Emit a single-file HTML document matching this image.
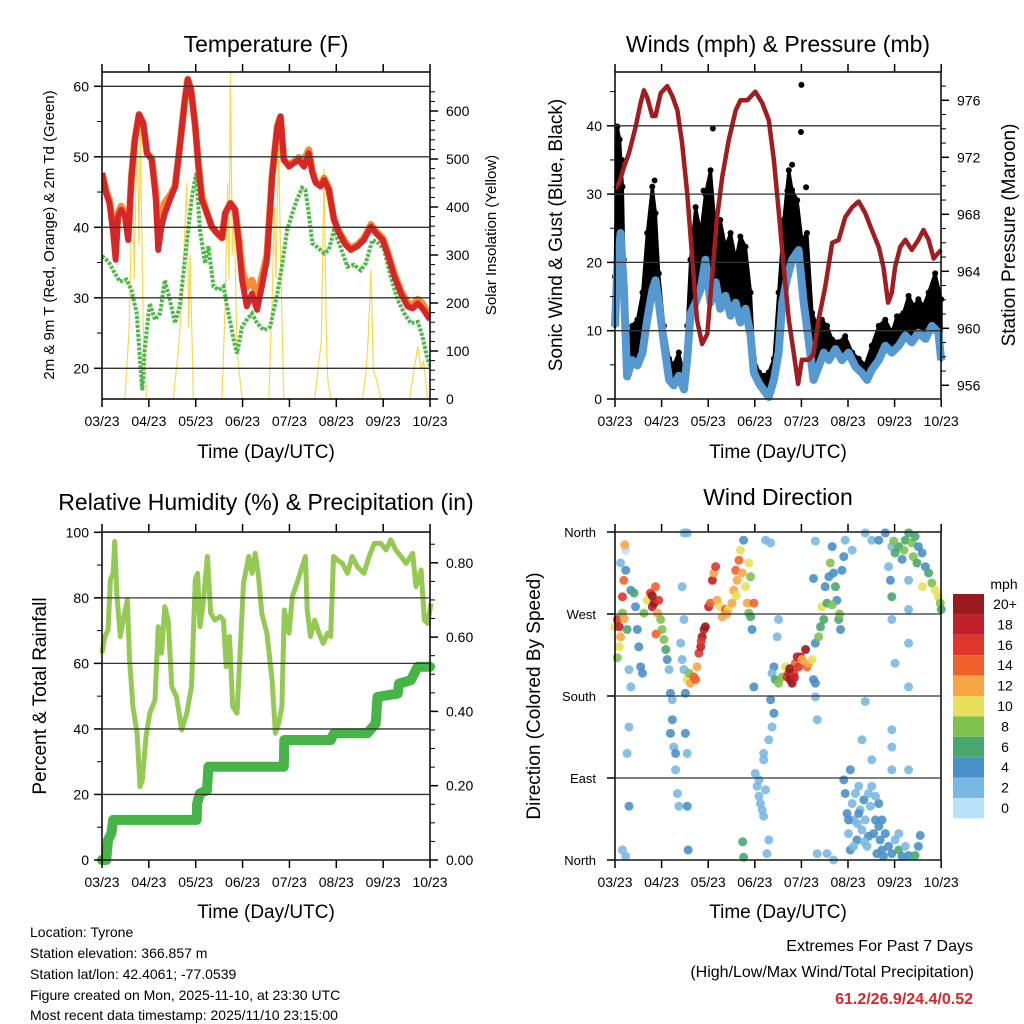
<!DOCTYPE html>
<html><head><meta charset="utf-8"><title>Station Charts</title>
<style>
html,body{margin:0;padding:0;background:#fff;}
svg{display:block;font-family:"Liberation Sans",sans-serif;}
</style></head>
<body>
<svg id="c" width="1024" height="1024" viewBox="0 0 1024 1024" xmlns="http://www.w3.org/2000/svg">
<defs><clipPath id="clip1"><rect x="102" y="72" width="328" height="327"/></clipPath></defs>
<rect width="1024" height="1024" fill="#fff"/>
<text x="266" y="52" font-size="23" text-anchor="middle">Temperature (F)</text>
<text x="778" y="52" font-size="23" text-anchor="middle">Winds (mph) &amp; Pressure (mb)</text>
<text x="266" y="510" font-size="23" text-anchor="middle">Relative Humidity (%) &amp; Precipitation (in)</text>
<text x="778" y="505" font-size="23" text-anchor="middle">Wind Direction</text>
<text transform="translate(54,235) rotate(-90)" font-size="15" text-anchor="middle">2m &amp; 9m T (Red, Orange) &amp; 2m Td (Green)</text>
<text transform="translate(496,235) rotate(-90)" font-size="15" text-anchor="middle">Solar Insolation (Yellow)</text>
<text transform="translate(562,235) rotate(-90)" font-size="19" text-anchor="middle">Sonic Wind &amp; Gust (Blue, Black)</text>
<text transform="translate(1015,235) rotate(-90)" font-size="19" text-anchor="middle">Station Pressure (Maroon)</text>
<text transform="translate(46,696) rotate(-90)" font-size="19" text-anchor="middle">Percent &amp; Total Rainfall</text>
<text transform="translate(540,696) rotate(-90)" font-size="19" text-anchor="middle">Direction (Colored By Speed)</text>
<text x="266" y="458" font-size="19" text-anchor="middle">Time (Day/UTC)</text>
<text x="778" y="458" font-size="19" text-anchor="middle">Time (Day/UTC)</text>
<text x="266" y="918" font-size="19" text-anchor="middle">Time (Day/UTC)</text>
<text x="778" y="918" font-size="19" text-anchor="middle">Time (Day/UTC)</text>
<g font-size="14">
<text x="30" y="937">Location: Tyrone</text>
<text x="30" y="958">Station elevation: 366.857 m</text>
<text x="30" y="979">Station lat/lon: 42.4061; -77.0539</text>
<text x="30" y="1000">Figure created on Mon, 2025-11-10, at 23:30 UTC</text>
<text x="30" y="1020">Most recent data timestamp: 2025/11/10 23:15:00</text>
</g>
<text x="973" y="951" font-size="16" text-anchor="end">Extremes For Past 7 Days</text>
<text x="974" y="977" font-size="16" text-anchor="end">(High/Low/Max Wind/Total Precipitation)</text>
<text x="973" y="1004" font-size="16" font-weight="bold" fill="#d62728" text-anchor="end">61.2/26.9/24.4/0.52</text>
</svg>
<script>
// ---------- data ----------
const dayLabels=["03/23","04/23","05/23","06/23","07/23","08/23","09/23","10/23"];
const tempT=[0,0.09,0.16,0.24,0.29,0.34,0.41,0.49,0.56,0.63,0.7,0.79,0.88,0.96,1.06,1.15,1.2,1.27,1.34,1.45,1.56,1.66,1.77,1.83,1.9,1.99,2.06,2.13,2.24,2.34,2.45,2.56,2.63,2.74,2.84,2.91,2.99,3.09,3.2,3.31,3.41,3.52,3.63,3.74,3.81,3.88,3.99,4.09,4.2,4.31,4.41,4.49,4.56,4.66,4.74,4.84,4.95,5.06,5.2,5.31,5.45,5.59,5.74,5.84,5.99,6.09,6.24,6.38,6.52,6.63,6.74,6.84,7.0];
const tempRed=[47.7,44.8,43.4,39.2,35.4,41.5,42.5,41.5,38.2,47.2,52.4,56.0,54.8,50.5,49.6,43.9,36.8,40.1,42.0,43.9,45.8,51.5,58.1,61.0,59.5,54.3,48.6,43.9,42.0,40.1,39.2,38.5,42.0,43.4,42.5,38.2,32.5,28.8,30.6,28.3,31.6,35.4,47.2,54.3,55.7,49.6,48.6,49.1,49.6,48.6,50.5,47.7,46.3,45.8,46.7,45.3,41.1,39.2,37.5,36.8,37.3,38.2,40.1,39.2,38.2,36.3,33.0,30.6,28.8,28.5,29.2,28.5,26.9];
const tempOrange=[47.7,45.2,43.8,40.0,36.4,42.0,43.0,42.0,38.8,47.2,52.4,56.0,54.8,50.5,49.8,45.0,39.0,42.0,43.5,44.5,45.8,51.5,58.1,61.0,59.5,54.3,48.8,44.5,42.0,40.1,39.2,38.5,42.0,43.4,42.5,39.0,34.0,31.5,32.5,30.0,33.0,36.0,47.2,54.3,55.7,49.6,48.8,49.3,49.9,49.5,51.0,48.0,46.5,46.0,47.0,45.5,41.1,39.4,37.8,37.1,37.5,38.5,40.4,39.5,38.5,36.6,33.4,31.0,29.3,29.0,29.8,29.2,27.3];
const dewT=[0,0.09,0.16,0.27,0.38,0.52,0.63,0.74,0.81,0.86,0.91,1.02,1.13,1.24,1.34,1.45,1.56,1.66,1.77,1.84,1.91,2.01,2.09,2.2,2.27,2.38,2.49,2.59,2.7,2.81,2.88,2.99,3.09,3.2,3.31,3.45,3.59,3.74,3.84,3.95,4.06,4.16,4.27,4.34,4.41,4.49,4.59,4.74,4.84,4.95,5.06,5.24,5.38,5.52,5.63,5.77,5.91,6.02,6.16,6.31,6.45,6.59,6.74,6.84,6.95,7.02];
const dewVals=[35.9,35.4,34.9,33.5,32.3,32.6,31.1,27.8,21.2,16.9,22.6,29.2,26.9,27.8,32.5,29.7,26.4,28.8,35.4,39.6,43.9,47.7,39.6,34.9,37.3,31.6,31.1,31.6,27.8,24.0,22.1,25.9,26.9,27.8,26.4,25.4,25.9,30.6,34.4,39.6,42.0,43.9,45.6,45.3,42.0,37.7,37.2,36.3,36.8,39.6,37.7,34.4,34.7,33.9,34.9,38.2,37.7,36.8,33.0,29.7,27.8,26.4,26.6,24.5,21.2,20.2];
const solarT=[0.49,0.58,0.65,0.69,0.75,0.79,0.82,0.88,0.95,1.52,1.63,1.7,1.81,1.85,1.88,1.95,2.56,2.63,2.68,2.71,2.74,2.78,2.82,2.88,2.99,3.56,3.63,3.68,3.71,3.77,3.81,3.88,4.54,4.63,4.68,4.74,4.79,4.82,4.88,5.56,5.64,5.68,5.74,5.79,5.86,5.95,6.56,6.66,6.74,6.81,6.86,6.95];
const solarVals=[0,150,480,250,590,320,560,150,0,0,100,200,450,150,300,0,0,200,450,250,690,300,400,100,0,0,200,400,250,530,300,0,0,80,120,480,100,40,0,0,60,130,270,60,40,0,0,60,110,60,80,0];
const pressT=[0,0.09,0.19,0.3,0.44,0.55,0.62,0.69,0.8,0.87,0.98,1.12,1.23,1.34,1.44,1.55,1.66,1.76,1.87,1.98,2.09,2.19,2.3,2.44,2.59,2.69,2.84,3.01,3.16,3.3,3.41,3.51,3.62,3.73,3.84,3.93,4.01,4.16,4.26,4.37,4.51,4.66,4.8,4.94,5.09,5.23,5.37,5.51,5.66,5.76,5.86,5.94,6.01,6.12,6.23,6.37,6.51,6.62,6.73,6.84,6.94,7.0];
const pressVals=[969.8,970.2,971.3,972.3,974.1,975.8,976.7,976.2,974.9,974.9,976.5,977.0,976.3,975.3,973.0,969.5,964.8,960.6,958.9,959.6,963.9,967.8,970.6,973.2,975.3,976.0,976.0,976.6,975.8,974.6,971.8,968.3,964.3,960.6,958.2,956.1,957.8,957.8,958.2,960.6,962.9,966.0,966.2,967.8,968.5,968.9,968.1,966.9,965.7,964.3,961.8,962.5,964.3,965.7,966.2,965.5,966.2,966.9,966.2,964.9,965.3,965.5];
const windT=[0,0.05,0.12,0.19,0.26,0.37,0.48,0.59,0.69,0.8,0.87,0.94,1.05,1.16,1.26,1.37,1.48,1.55,1.62,1.73,1.84,1.94,2.05,2.16,2.26,2.37,2.48,2.59,2.69,2.8,2.91,2.98,3.09,3.19,3.3,3.41,3.51,3.59,3.69,3.8,3.94,4.05,4.16,4.26,4.37,4.48,4.59,4.73,4.87,5.01,5.16,5.3,5.41,5.51,5.66,5.8,5.94,6.09,6.23,6.37,6.51,6.66,6.8,6.94,7.0];
const windVals=[10.6,19.2,24.3,16.1,3.3,5.7,4.9,6.8,11.6,15.9,17.4,14.1,8.2,2.8,2.0,3.4,1.4,5.9,12.5,14.1,16.1,20.4,14.1,17.1,13.2,15.1,12.2,14.1,11.2,13.2,9.3,3.8,2.3,1.3,0.3,2.8,6.8,14.1,17.6,20.4,21.8,14.1,8.3,2.8,4.7,6.8,5.7,7.3,5.7,6.8,4.7,3.8,2.8,4.3,5.7,7.8,6.8,7.8,9.3,8.3,9.7,8.8,10.7,9.7,5.7];
const gustT=[0,0.05,0.1,0.16,0.19,0.26,0.37,0.48,0.59,0.69,0.8,0.87,0.94,1.05,1.16,1.26,1.37,1.48,1.55,1.62,1.73,1.84,1.94,2.05,2.16,2.26,2.37,2.48,2.59,2.69,2.8,2.91,2.98,3.09,3.19,3.3,3.41,3.51,3.62,3.73,3.8,3.91,4.01,4.12,4.23,4.34,4.44,4.55,4.66,4.8,4.94,5.09,5.23,5.37,5.51,5.66,5.8,5.94,6.05,6.19,6.3,6.41,6.51,6.62,6.73,6.87,7.0];
const gustVals=[17.9,39.9,38.0,31.1,20.4,8.3,10.7,11.6,15.6,24.3,31.1,27.2,18.4,10.7,5.9,5.0,6.8,3.4,10.7,20.4,28.1,24.3,30.0,33.5,24.3,26.2,22.3,24.3,20.4,23.8,22.3,15.6,5.9,3.9,3.4,3.9,5.9,15.6,26.2,33.5,30.6,29.1,23.3,24.3,12.6,10.7,11.6,10.7,8.7,8.3,9.2,6.8,5.9,5.0,7.8,10.7,11.6,9.7,12.1,12.6,15.1,13.6,14.6,13.6,15.6,18.4,14.6];
const gustOutT=[4.0,3.99,2.1,3.8,0.15,0.85,1.9,3.7,4.1,3.85];
const gustOutV=[46.0,39.1,39.6,34.3,35.0,32.0,30.5,30.5,31.0,27.5];
const rhT=[0,0.06,0.13,0.18,0.24,0.27,0.32,0.39,0.45,0.54,0.59,0.66,0.75,0.81,0.86,0.94,1.02,1.13,1.2,1.27,1.34,1.41,1.49,1.59,1.7,1.81,1.91,1.99,2.04,2.09,2.16,2.25,2.32,2.41,2.52,2.59,2.65,2.72,2.79,2.88,2.96,3.02,3.13,3.2,3.27,3.34,3.41,3.52,3.63,3.7,3.77,3.84,3.89,3.99,4.06,4.16,4.27,4.34,4.38,4.45,4.54,4.63,4.72,4.81,4.88,4.94,5.02,5.13,5.24,5.34,5.45,5.59,5.7,5.81,5.95,6.06,6.16,6.27,6.38,6.49,6.63,6.7,6.81,6.88,6.95,7.02];
const rhVals=[63.1,68.2,70.2,85.5,87.5,97.2,80.4,68.2,73.2,79.3,61.0,46.8,38.7,22.4,24.4,37.6,44.8,48.8,71.2,63.1,77.3,73.2,52.9,49.8,39.7,44.8,52.9,85.5,87.5,71.2,78.3,92.6,75.3,73.2,74.3,73.2,59.0,68.2,46.8,44.8,67.1,84.4,92.6,87.5,93.6,86.5,75.3,69.2,54.9,38.7,41.7,46.8,76.3,69.2,80.4,84.4,89.5,92.6,76.3,68.2,73.2,69.2,66.1,69.2,68.2,92.6,91.6,90.5,87.5,92.6,89.5,87.5,92.6,96.6,96.6,94.6,97.7,94.6,92.6,90.5,93.6,83.4,88.5,73.2,72.2,78.3];
const rainT=[0,0.09,0.13,0.2,0.24,2.02,2.03,2.09,2.24,2.27,3.88,3.89,4.88,4.95,5.66,5.84,5.88,6.31,6.34,6.59,6.74,7.0];
const rainVals=[0,0,0.054,0.072,0.108,0.108,0.152,0.179,0.188,0.251,0.251,0.323,0.323,0.341,0.341,0.367,0.439,0.448,0.475,0.484,0.520,0.520];
const dirT=[
0.00,0.05,0.09,0.12,0.16,0.19,0.23,0.12,0.23,0.21,
0.09,0.16,0.26,0.30,0.34,0.30,0.26,0.30,0.34,0.41,
0.44,0.48,0.51,0.55,0.59,0.62,0.69,0.76,0.80,0.84,
0.87,0.91,0.94,0.98,1.01,1.05,1.09,1.12,1.16,1.19,
1.23,1.26,1.30,1.34,1.37,1.23,1.19,1.30,1.41,1.44,
1.48,1.51,1.55,1.59,1.62,1.69,1.73,1.76,1.80,1.84,
1.87,1.91,1.94,2.01,2.05,2.09,2.12,2.16,2.19,2.26,
2.30,2.37,2.44,2.51,2.55,2.59,2.62,2.66,2.69,2.73,
2.76,2.80,2.84,2.87,2.91,2.94,2.98,2.87,2.91,1.48,
1.55,1.44,1.48,1.51,1.55,1.55,1.57,2.74,2.76,2.98,
3.19,3.01,3.05,3.09,3.12,3.16,3.19,3.09,3.23,3.30,
3.26,3.23,3.34,3.51,3.48,3.41,3.37,3.34,3.41,3.37,
3.30,3.19,3.44,3.51,3.59,3.66,3.69,3.73,3.76,3.80,
3.84,3.87,3.91,3.94,3.98,4.01,4.09,4.12,4.16,4.23,
4.26,4.30,4.30,4.34,4.30,4.37,4.41,4.44,4.48,4.51,
4.55,4.59,4.62,4.66,4.69,4.73,4.76,4.80,4.84,4.87,
4.91,4.94,4.26,4.30,5.09,5.37,5.51,5.66,5.80,5.94,
5.87,5.91,5.94,5.94,6.01,6.09,6.16,6.23,6.30,6.37,
6.44,6.51,6.59,6.66,6.73,6.80,6.87,6.94,6.98,7.00,
6.30,6.30,6.30,6.30,6.01,5.94,5.94,5.37,5.30,5.51,
5.94,6.30,5.05,4.91,4.94,4.98,5.01,5.05,5.09,5.12,
5.16,5.19,5.23,5.26,5.30,5.34,5.37,5.41,5.44,5.48,
5.51,5.55,5.59,5.62,5.66,5.69,5.73,5.76,5.80,5.87,
5.94,6.01,6.09,6.16,6.23,6.30,6.44,6.51,6.55,6.09,
5.01,5.12,5.23,5.44,5.59,5.66,5.73,0.16,0.23,4.34,
4.55,4.69,6.40,6.20,6.48,5.98,6.60,4.82,4.66,0.20,
0.05,0.88,3.75,3.85,1.85,2.40,2.60,0.80,5.20,5.35];
const dirDeg=[
256,264,256,245,289,307,318,326,340,346,
234,271,253,209,190,146,117,59,296,293,
278,253,234,212,205,271,285,293,278,282,
300,271,285,264,253,242,231,220,209,183,
154,124,99,73,59,176,139,117,238,220,
209,183,198,205,194,201,198,212,227,234,
245,253,256,278,282,307,315,322,285,278,
267,275,275,282,296,318,307,329,340,315,
351,300,282,271,267,253,282,326,311,359,
359,300,264,139,117,59,11,20,3,190,
110,95,81,70,62,55,48,88,77,22,
7,351,348,264,245,212,205,176,161,146,
132,117,198,194,201,212,201,205,198,194,
205,216,223,212,223,220,231,212,216,220,
198,194,179,154,238,245,256,278,264,300,
282,311,326,344,315,300,285,264,253,318,
333,351,309,350,340,359,351,351,359,344,
322,307,289,264,337,344,330,351,359,348,
355,344,337,322,315,304,296,289,282,275,
307,275,238,190,216,143,124,174,132,110,
99,99,99,88,73,51,29,11,62,44,
73,22,81,55,33,66,44,15,73,59,
81,29,44,7,62,22,44,4,29,15,
7,22,11,4,15,5,5,15,27,29,
44,15,51,26,70,37,11,11,4,7,
7,0,333,340,326,350,300,270,280,265,
222,248,210,200,240,270,290,290,40,20];
const dirSpd=[
10,16,18,12,16,14,4,2,1,12,
10,8,6,2,2,2,2,4,4,6,
4,4,4,4,4,8,10,16,18,20,
14,12,16,8,8,8,6,4,2,4,
4,2,2,2,2,2,4,4,2,2,
2,4,10,8,12,14,14,12,16,18,
20,18,20,18,14,18,12,16,12,10,
12,14,10,12,12,14,12,14,10,12,
4,10,12,8,6,4,14,10,8,2,
2,2,2,4,2,4,4,6,6,4,
2,2,2,2,2,2,2,2,2,2,
2,2,2,2,2,4,2,4,4,2,
2,2,6,8,8,10,16,18,20,20,
16,14,18,16,18,12,20,14,12,10,
4,4,2,2,4,8,6,10,6,4,
6,4,8,4,4,6,4,6,4,4,
4,2,4,2,2,2,2,4,4,2,
2,4,6,2,6,6,4,6,6,8,
6,4,4,4,6,8,10,10,8,6,
2,2,2,2,2,2,2,2,2,2,
2,2,4,4,4,4,2,4,2,2,
2,4,2,2,2,4,2,2,2,2,
2,4,4,4,4,4,4,4,4,4,
4,2,6,4,2,4,6,4,4,2,
4,2,4,4,2,4,4,2,2,2,
2,2,8,8,6,8,10,8,8,12,
8,14,20,18,16,12,10,20,2,2];
const speedLabels=["20+","18","16","14","12","10","8","6","4","2","0"];
const speedColors=["#9b1a1e","#c0202a","#e0352b","#f0622c","#f8a545","#e8e05a","#7fc24e","#48a870","#4a90c8","#7ab8e4","#b9e2f7"];
const dirLabels=["North","East","South","West","North"];
const dirTicks=[0,90,180,270,360];

// ---------- helpers ----------
const NS="http://www.w3.org/2000/svg";
const svg=document.getElementById('c');
function mk(tag,attrs,parent){const e=document.createElementNS(NS,tag);for(const k in attrs)e.setAttribute(k,attrs[k]);(parent||svg).appendChild(e);return e;}
function txt(x,y,s,size,anchor,parent){const e=mk('text',{x:x,y:y,'font-size':size,'text-anchor':anchor},parent);e.textContent=s;return e;}
function pts(ts,vs,fx,fy){return ts.map((t,i)=>fx(t).toFixed(1)+','+fy(vs[i]).toFixed(1)).join(' ');}

const P1={x0:102,x1:430,y0:72,y1:399};
const P2={x0:615,x1:941,y0:72,y1:399};
const P3={x0:102,x1:430,y0:532,y1:860};
const P4={x0:615,x1:941,y0:532,y1:860};
const xA=t=>102+t*46.86;
const xB=t=>615+t*46.6;
const yTemp=v=>368.3-(v-20)*7.05;
const ySolar=v=>399-v*0.48;
const yWind=v=>399-v*6.83;
const yPress=v=>385.3-(v-956)*14.25;
const yRH=v=>860-v*3.277;
const yRain=v=>860-v*371.5;
const yDir=v=>860-v*(328/360);

function frame(P,fx,name){
  const g=mk('g',{});
  
  
  mk('rect',{x:P.x0,y:P.y0,width:P.x1-P.x0,height:P.y1-P.y0,fill:'none',stroke:'#000','stroke-width':1.5},g);
  dayLabels.forEach((d,i)=>{
    const x=fx(i);
    mk('line',{x1:x,x2:x,y1:P.y1,y2:P.y1+8,stroke:'#000','stroke-width':1.5},g);
    mk('line',{x1:x,x2:x,y1:P.y0,y2:P.y0-8,stroke:'#000','stroke-width':1.5},g);
    const t=txt(x,P.y1+27,d,14,'middle',g);
    
    
  });
  return g;
}
function leftAxis(P,fy,vals,labels,minors,g,grid){
  minors.forEach(v=>mk('line',{x1:P.x0-5,x2:P.x0,y1:fy(v),y2:fy(v),stroke:'#000','stroke-width':1},g));
  vals.forEach((v,i)=>{
    const y=fy(v);
    if(grid) mk('line',{x1:P.x0,x2:P.x1,y1:y,y2:y,stroke:'#333','stroke-width':1.3},g);
    mk('line',{x1:P.x0-8,x2:P.x0,y1:y,y2:y,stroke:'#000','stroke-width':1.5},g);
    const t=txt(P.x0-13,y+5,labels[i],14,'end',g);
    
    
  });
}
function rightAxis(P,fy,vals,labels,minors,g){
  minors.forEach(v=>mk('line',{x1:P.x1,x2:P.x1+5,y1:fy(v),y2:fy(v),stroke:'#000','stroke-width':1},g));
  vals.forEach((v,i)=>{
    const y=fy(v);
    mk('line',{x1:P.x1,x2:P.x1+8,y1:y,y2:y,stroke:'#000','stroke-width':1.5},g);
    const t=txt(P.x1+16,y+5,labels[i],14,'start',g);
    
    
  });
}
function range(a,b,s){const r=[];for(let v=a;v<=b+1e-9;v+=s)r.push(+v.toFixed(3));return r;}

// ---------- Panel 1 ----------
{
  const g=frame(P1,xA,'temperature');
  const cg=mk('g',{'clip-path':'url(#clip1)'});
  
  
  const s=mk('polyline',{points:pts(solarT,solarVals,xA,ySolar),fill:'none',stroke:'#f7d94c','stroke-width':1.2},cg);
  
  
  const d=mk('polyline',{points:pts(dewT,dewVals,xA,yTemp),fill:'none',stroke:'#4db848','stroke-width':4,'stroke-dasharray':'3 1.5'},cg);
  
  
  const o=mk('polyline',{points:pts(tempT,tempOrange,xA,yTemp),fill:'none',stroke:'#f58a3a','stroke-width':7,'stroke-linejoin':'round'},cg);
  
  
  const r=mk('polyline',{points:pts(tempT,tempRed,xA,yTemp),fill:'none',stroke:'#d62728','stroke-width':6,'stroke-linejoin':'round'},cg);
  
  
  leftAxis(P1,yTemp,[20,30,40,50,60],["20","30","40","50","60"],range(20,60,5),g,true);
  rightAxis(P1,ySolar,[0,100,200,300,400,500,600],["0","100","200","300","400","500","600"],range(0,650,20),g);
  svg.appendChild(g);
}
// ---------- Panel 2 ----------
{
  const g=frame(P2,xB,'winds');
  const cg=mk('g',{});
  
  
  const band=gustT.map((t,i)=>xB(t).toFixed(1)+','+yWind(gustVals[i]).toFixed(1)).join(' ')+' '+windT.slice().reverse().map((t,i)=>{const j=windT.length-1-i;return xB(t).toFixed(1)+','+yWind(windVals[j]).toFixed(1);}).join(' ');
  const b=mk('polygon',{points:band,fill:'#000',stroke:'#000','stroke-width':3,'stroke-linejoin':'round'},cg);
  
  
  gustT.forEach((t,i)=>{
    const c=mk('circle',{cx:xB(t),cy:yWind(gustVals[i]),r:3,fill:'#000'},cg);
    
    
  });
  gustOutT.forEach((t,i)=>{
    const c=mk('circle',{cx:xB(t),cy:yWind(gustOutV[i]),r:3,fill:'#000'},cg);
    
    
  });
  const w=mk('polyline',{points:pts(windT,windVals,xB,yWind),fill:'none',stroke:'#5599d0','stroke-width':8,'stroke-linejoin':'round'},cg);
  
  
  const p=mk('polyline',{points:pts(pressT,pressVals,xB,yPress),fill:'none',stroke:'#a11d1f','stroke-width':4.5,'stroke-linejoin':'round'},cg);
  
  
  leftAxis(P2,yWind,[0,10,20,30,40],["0","10","20","30","40"],range(0,45,5),g,true);
  rightAxis(P2,yPress,[956,960,964,968,972,976],["956","960","964","968","972","976"],range(956,977,1),g);
  svg.appendChild(g);
}
// ---------- Panel 3 ----------
{
  const g=frame(P3,xA,'humidity');
  const cg=mk('g',{});
  
  
  const h=mk('polyline',{points:pts(rhT,rhVals,xA,yRH),fill:'none',stroke:'#94c954','stroke-width':5,'stroke-linejoin':'round'},cg);
  
  
  const r=mk('polyline',{points:pts(rainT,rainVals,xA,yRain),fill:'none',stroke:'#46b446','stroke-width':10,'stroke-linejoin':'round','stroke-linecap':'round'},cg);
  
  
  leftAxis(P3,yRH,[0,20,40,60,80,100],["0","20","40","60","80","100"],range(0,100,10),g,true);
  rightAxis(P3,yRain,[0,0.2,0.4,0.6,0.8],["0.00","0.20","0.40","0.60","0.80"],range(0,0.85,0.05),g);
  svg.appendChild(g);
}
// ---------- Panel 4 ----------
{
  const g=frame(P4,xB,'wind-direction');
  const cg=mk('g',{});
  
  
  function col(s){let i=Math.floor(s/2);if(i>10)i=10;return speedColors[10-i];}
  dirT.forEach((t,i)=>{
    const c=mk('circle',{cx:xB(t),cy:yDir(dirDeg[i]),r:4.5,fill:col(dirSpd[i]),'fill-opacity':0.9},cg);
    
    
  });
  dirTicks.forEach((v,i)=>{
    const y=yDir(v);
    mk('line',{x1:P4.x0,x2:P4.x1,y1:y,y2:y,stroke:'#333','stroke-width':1.3},g);
    mk('line',{x1:P4.x0-8,x2:P4.x0,y1:y,y2:y,stroke:'#000','stroke-width':1.5},g);
    const t=txt(P4.x0-19,y+5,dirLabels[i],13,'end',g);
    
    
  });
  svg.appendChild(g);
  const lg=mk('g',{});
  
  
  const u=txt(1004,589,'mph',14,'middle',lg);
  
  
  speedLabels.forEach((l,i)=>{
    const y=594+i*20.4;
    const r=mk('rect',{x:953,y:y,width:31,height:20.4,fill:speedColors[i]},lg);
    
    
    const t=txt(1005,y+15,l,14,'middle',lg);
    
    
  });
}
</script>
</body></html>
